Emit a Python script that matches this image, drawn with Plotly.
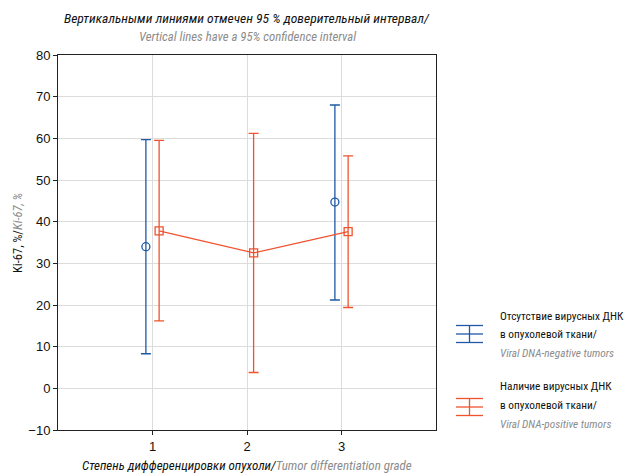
import plotly.graph_objects as go

grades = [1, 2, 3]
neg_x = [1, 3]
neg_mean = [34.0, 44.7]
neg_upper = [59.7, 68.0]
neg_lower = [8.3, 21.2]
pos_x = [1, 2, 3]
pos_mean = [37.8, 32.5, 37.6]
pos_upper = [59.5, 61.2, 55.8]
pos_lower = [16.2, 3.8, 19.4]
y_ticks = [-10, 0, 10, 20, 30, 40, 50, 60, 70, 80]

legend_neg = ["Отсутствие вирусных ДНК", "в опухолевой ткани/", "Viral DNA-negative tumors"]
legend_pos = ["Наличие вирусных ДНК", "в опухолевой ткани/", "Viral DNA-positive tumors"]

BLUE = "#1f5aa6"
ORANGE = "#f0532d"
GRAY = "#8c8c8c"
FONT = "Liberation Sans Narrow, Arial Narrow, Roboto Condensed, sans-serif"
off = 0.07

# plot-area geometry in window pixels (used for paper-coordinate placement of text)
PX0, PX1, PY0, PY1 = 58, 436, 55, 430
def px(x):
    return (x - PX0) / (PX1 - PX0)
def py(y):
    return (PY1 - y) / (PY1 - PY0)

fig = go.Figure()
fig.add_trace(go.Scatter(
    x=[v - off for v in neg_x], y=neg_mean, mode="markers",
    marker=dict(symbol="circle-open", size=8, color=BLUE, line=dict(width=1.3)),
    error_y=dict(type="data", symmetric=False,
                 array=[u - m for u, m in zip(neg_upper, neg_mean)],
                 arrayminus=[m - l for m, l in zip(neg_mean, neg_lower)],
                 color=BLUE, thickness=1.3, width=5),
    showlegend=False))
fig.add_trace(go.Scatter(
    x=[v + off for v in pos_x], y=pos_mean, mode="lines+markers",
    line=dict(color=ORANGE, width=1.2),
    marker=dict(symbol="square-open", size=8, color=ORANGE, line=dict(width=1.3)),
    error_y=dict(type="data", symmetric=False,
                 array=[u - m for u, m in zip(pos_upper, pos_mean)],
                 arrayminus=[m - l for m, l in zip(pos_mean, pos_lower)],
                 color=ORANGE, thickness=1.3, width=5),
    showlegend=False))

# legend icons (paper coordinates)
def icon(yc, color):
    x0, x1 = px(456), px(483)
    xm = (x0 + x1) / 2
    h = 8.5 / (PY1 - PY0)
    for dy in (-h, 0, h):
        fig.add_shape(type="line", xref="paper", yref="paper", x0=x0, x1=x1,
                      y0=yc + dy, y1=yc + dy, line=dict(color=color, width=1.3))
    fig.add_shape(type="line", xref="paper", yref="paper", x0=xm, x1=xm,
                  y0=yc - h, y1=yc + h, line=dict(color=color, width=1.3))

icon(py(334), BLUE)
icon(py(407), ORANGE)

def text(x, y, s, size, color="#111", anchor="left", angle=0):
    fig.add_annotation(xref="paper", yref="paper", x=x, y=y, xanchor=anchor,
                       yanchor="middle", showarrow=False, text=s, textangle=angle,
                       font=dict(family=FONT, size=size, color=color))

for lines, ys in ((legend_neg, (316, 334, 353)), (legend_pos, (386, 405, 424))):
    text(px(498), py(ys[0]), lines[0], 11.3)
    text(px(498), py(ys[1]), lines[1], 11.3)
    text(px(498), py(ys[2]), f"<i>{lines[2]}</i>", 11.3, GRAY)

# title
text(0.5, py(18), "<i>Вертикальными линиями отмечен 95 % доверительный интервал/</i>", 13.6, anchor="center")
text(0.5, py(37), "<i>Vertical lines have a 95% confidence interval</i>", 12.8, GRAY, anchor="center")
# x title
text(0.5, py(465), "<i>Степень дифференцировки опухоли/</i>"
     f"<span style='color:{GRAY}'><i>Tumor differentiation grade</i></span>", 13, anchor="center")
# y title
text(px(17), py(233), f"Ki-67, %/<span style='color:{GRAY}'><i>Ki-67, %</i></span>", 12.5,
     anchor="center", angle=-90)

fig.update_layout(
    width=627, height=466,
    margin=dict(l=50, r=199, t=47, b=44),
    paper_bgcolor="white", plot_bgcolor="white",
    font=dict(family="Liberation Sans, Arial, sans-serif", size=13, color="#111"),
    xaxis=dict(range=[0, 4], tickvals=grades, ticktext=[str(g) for g in grades],
               showgrid=True, gridcolor="#dcdcdc", gridwidth=1,
               showline=True, linecolor="#222", linewidth=1, mirror=True,
               ticks="outside", ticklen=4, tickcolor="#222", zeroline=False),
    yaxis=dict(range=[-10, 80], tickvals=y_ticks,
               showgrid=True, gridcolor="#dcdcdc", gridwidth=1,
               showline=True, linecolor="#222", linewidth=1, mirror=True,
               ticks="outside", ticklen=4, tickcolor="#222", zeroline=False),
)

fig.write_html("out.html")
